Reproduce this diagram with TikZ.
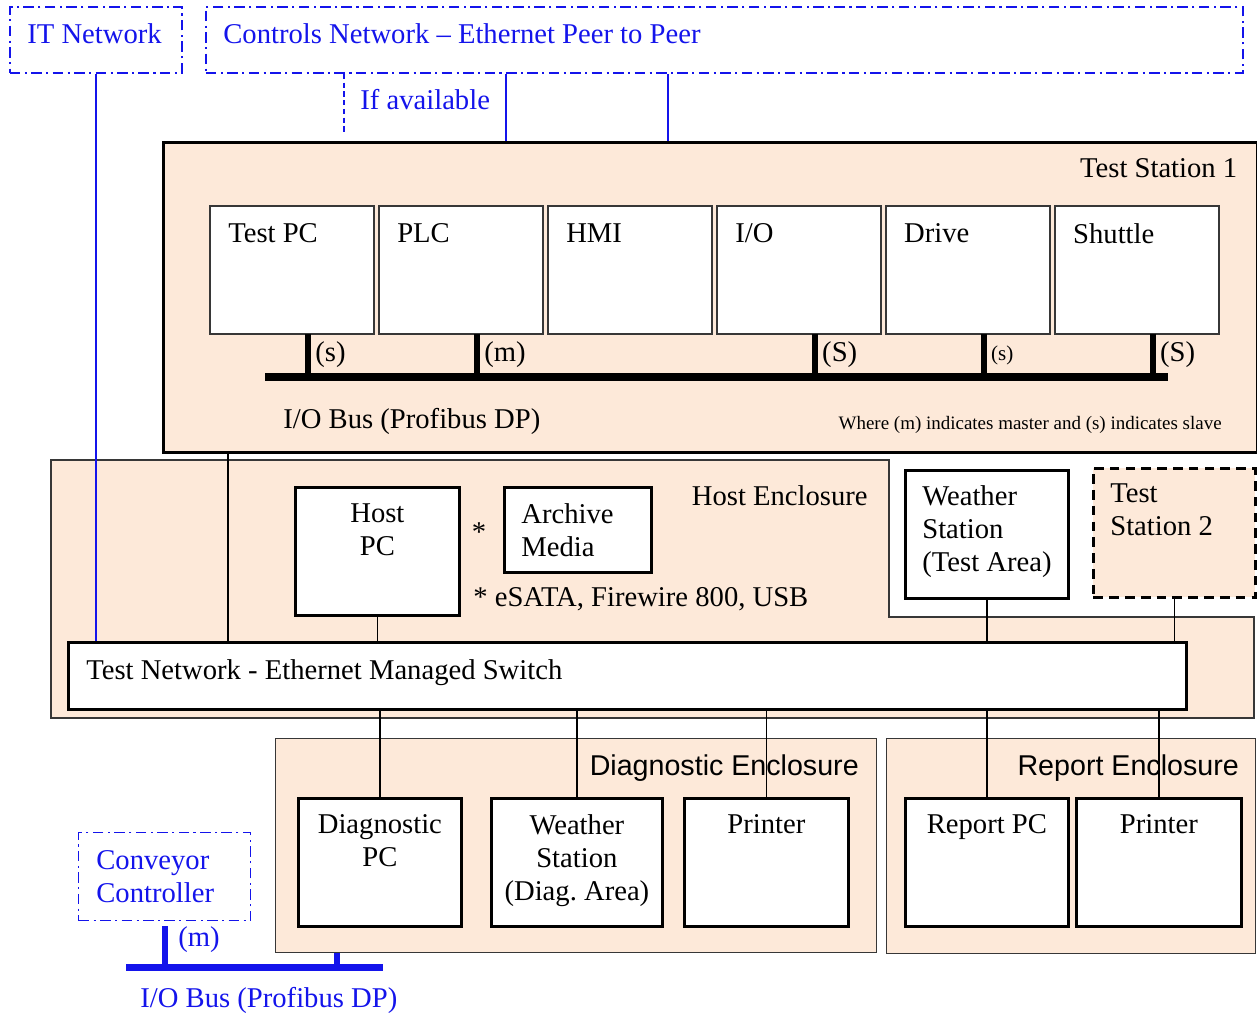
\documentclass[tikz,border=0pt]{standalone}
\usepackage{fontspec}
\setmainfont{Liberation Serif}
\newfontfamily\sansfont{Liberation Sans}
\usetikzlibrary{positioning}

\definecolor{peach}{RGB}{253,233,217}
\definecolor{netblue}{RGB}{20,20,235}
\definecolor{edgegray}{RGB}{55,55,55}
\newcommand{\txt}{\fontsize{16.3}{18.8}\selectfont}

\tikzset{
  dev/.style={draw=edgegray, line width=0.9pt, fill=white, minimum width=3.28cm,
    minimum height=2.56cm, inner sep=0pt, outer sep=0pt, anchor=north west},
  unit/.style={draw, line width=1.6pt, fill=white, inner sep=0pt, anchor=north west},
  encl/.style={draw=edgegray, line width=0.7pt, fill=peach, inner sep=0pt, anchor=north west},
  netbox/.style={draw=netblue, line width=1pt, dash pattern=on 6pt off 2.5pt on 1.2pt off 2.5pt,
    inner sep=0pt, anchor=north west},
  tl/.style={anchor=north west, inner sep=0pt, align=left, font=\txt},
  tc/.style={anchor=north, inner sep=0pt, align=center, font=\txt},
  tr/.style={anchor=north east, inner sep=0pt, font=\txt},
  wire/.style={line width=0.8pt},
  bwire/.style={netblue, line width=0.8pt},
  bus/.style={line width=4pt},
  stub/.style={line width=3.4pt},
  tag/.style={anchor=west, inner sep=0pt, font=\txt},
  enclname/.style={tr, xshift=-0.36cm, yshift=-0.32cm, font=\sansfont\fontsize{16.3}{19}\selectfont},
}

\begin{document}
\begin{tikzpicture}[x=0.02cm, y=-0.02cm, node distance=0.1cm]

    \useasboundingbox (0,0) rectangle (1257,1015);

    % networks on top
    \node[netbox, minimum width=3.44cm, minimum height=1.32cm,
      label={[anchor=west, inner sep=0pt, xshift=0.36cm, yshift=0.12cm, font=\txt, text=netblue]west:IT Network}] (itnet) at (9,6) {};
    \node[netbox, minimum width=20.74cm, minimum height=1.32cm,
      label={[anchor=west, inner sep=0pt, xshift=0.36cm, yshift=0.12cm, font=\txt, text=netblue]west:Controls Network -- Ethernet Peer to Peer}] (ctrl) at (205,6) {};

    % test station 1
    \node[encl, draw=black, line width=1.6pt, minimum width=21.88cm, minimum height=6.2cm,
      label={[tr, xshift=-0.42cm, yshift=-0.34cm]north east:Test Station 1}] (ts1) at (162,141) {};

    \node[dev, label={[tl, xshift=0.36cm, yshift=-0.34cm]north west:Test PC}] (testpc) at (210,206) {};
    \node[dev, right=of testpc, label={[tl, xshift=0.36cm, yshift=-0.34cm]north west:PLC}] (plc) {};
    \node[dev, right=of plc, label={[tl, xshift=0.36cm, yshift=-0.34cm]north west:HMI}] (hmi) {};
    \node[dev, right=of hmi, label={[tl, xshift=0.36cm, yshift=-0.34cm]north west:I/O}] (io) {};
    \node[dev, right=of io, label={[tl, xshift=0.36cm, yshift=-0.34cm]north west:Drive}] (drive) {};
    \node[dev, right=of drive, label={[tl, xshift=0.36cm, yshift=-0.34cm]north west:Shuttle}] (shuttle) {};

    % profibus inside test station
    \coordinate (busL) at (265,377);
    \coordinate (busR) at (1168,377);
    \draw[bus] (busL) -- (busR);
    \foreach \d/\t in {testpc/(s), plc/(m), io/(S), shuttle/(S)} {
        \draw[stub] ([xshift=1.96cm]\d.south west) coordinate (top) -- (top |- busL);
        \node[tag] at ([xshift=2.1cm, yshift=-0.42cm]\d.south west) {\t};
    }
    \draw[stub] ([xshift=1.96cm]drive.south west) coordinate (top) -- (top |- busL);
    \node[tag, font=\fontsize{12}{14}\selectfont] at ([xshift=2.1cm, yshift=-0.42cm]drive.south west) {(s)};

    \node[anchor=west, inner sep=0pt, font=\txt] (iobus) at (283,421) {I/O Bus (Profibus DP)};
    \node[anchor=east, inner sep=0pt, font=\fontsize{10.8}{13}\selectfont] (note) at (1222,425) {Where (m) indicates master and (s) indicates slave};

    % host enclosure
    \draw[encl] (51,460) -- (889,460) -- (889,617) -- (1254,617) -- (1254,718) -- (51,718) -- cycle;
    \node[anchor=east, inner sep=0pt, font=\txt] (hostlbl) at (868,496) {Host Enclosure};

    \node[unit, minimum width=3.28cm, minimum height=2.56cm,
      label={[tc, yshift=-0.34cm]north:Host\\PC}] (hostpc) at (294,486) {};
    \node[unit, minimum width=2.94cm, minimum height=1.7cm,
      label={[tl, xshift=0.36cm, yshift=-0.34cm]north west:Archive\\Media}] (archive) at (503,486) {};
    \node[inner sep=0pt, font=\txt] (star) at (479,532) {*};
    \node[anchor=west, inner sep=0pt, font=\txt] (ifaces) at (473,599) {* eSATA, Firewire 800, USB};

    \node[unit, minimum width=3.26cm, minimum height=2.56cm,
      label={[tl, xshift=0.36cm, yshift=-0.32cm]north west:Weather\\Station\\(Test Area)}] (wstest) at (904,469) {};
    \node[encl, draw=black, line width=1.6pt, dash pattern=on 5.5pt off 3.5pt, minimum width=3.24cm, minimum height=2.58cm,
      label={[tl, xshift=0.36cm, yshift=-0.32cm]north west:Test\\Station 2}] (ts2) at (1092,467) {};

    % switch
    \node[unit, minimum width=22.36cm, minimum height=1.34cm,
      label={[tl, xshift=0.38cm, yshift=-0.36cm]north west:Test Network - Ethernet Managed Switch}] (sw) at (67,641) {};

    % diagnostic and report enclosures
    \node[encl, minimum width=12.02cm, minimum height=4.28cm,
      label={[enclname]north east:Diagnostic Enclosure}] (diagencl) at (275,738) {};
    \node[unit, minimum width=3.26cm, minimum height=2.56cm,
      label={[tc, yshift=-0.34cm]north:Diagnostic\\PC}] (diagpc) at (297,797) {};
    \node[unit, minimum width=3.42cm, minimum height=2.56cm,
      label={[tc, yshift=-0.34cm]north:Weather\\Station\\(Diag.\ Area)}] (wsdiag) at (490,797) {};
    \node[unit, minimum width=3.28cm, minimum height=2.56cm,
      label={[tc, yshift=-0.34cm]north:Printer}] (diagprn) at (683,797) {};

    \node[encl, minimum width=7.38cm, minimum height=4.3cm,
      label={[enclname, xshift=0.02cm]north east:Report Enclosure}] (repencl) at (886,738) {};
    \node[unit, minimum width=3.26cm, minimum height=2.56cm,
      label={[tc, yshift=-0.34cm]north:Report PC}] (reppc) at (904,797) {};
    \node[unit, minimum width=3.3cm, minimum height=2.56cm,
      label={[tc, yshift=-0.34cm]north:Printer}] (repprn) at (1075,797) {};

    % conveyor and its bus
    \node[netbox, line width=0.8pt, minimum width=3.44cm, minimum height=1.76cm,
      label={[anchor=west, inner sep=0pt, xshift=0.36cm, align=left, font=\txt, text=netblue]west:Conveyor\\Controller}] (conv) at (78,832) {};
    \coordinate (bbusL) at (126,967);
    \coordinate (bbusR) at (383,967);
    \draw[bus, netblue] (bbusL) -- (bbusR);
    \draw[stub, netblue] ([yshift=-0.1cm]conv.south) -- (conv.south |- bbusL);
    \draw[stub, netblue] (337,0 |- diagencl.south) -- (337,0 |- bbusL);
    \node[tag, text=netblue] (mtag) at (178,940) {(m)};
    \node[anchor=west, inner sep=0pt, font=\txt, text=netblue] (bbuslbl) at (140,1000) {I/O Bus (Profibus DP)};

    % connections
    \draw[bwire] (itnet.south) -- (itnet.south |- sw.north);
    \coordinate (ifend) at (344,135);
    \draw[bwire, dash pattern=on 3pt off 2pt] (ifend |- ctrl.south) -- (ifend);
    \node[anchor=west, inner sep=0pt, font=\txt, text=netblue] (iflbl) at (360,100) {If available};
    \draw[bwire] (506,0 |- ctrl.south) -- (506,0 |- ts1.north);
    \draw[bwire] (668,0 |- ctrl.south) -- (668,0 |- ts1.north);

    \draw[wire] (228,0 |- ts1.south) -- (228,0 |- sw.north);
    \draw[wire] (hostpc.south) -- (hostpc.south |- sw.north);
    \draw[wire] (wstest.south) -- (wstest.south |- sw.north);
    \draw[wire] (ts2.south) -- (ts2.south |- sw.north);

    \foreach \d in {diagpc, wsdiag, diagprn, reppc, repprn}
        \draw[wire] (\d.north |- sw.south) -- (\d.north);

\end{tikzpicture}
\end{document}
